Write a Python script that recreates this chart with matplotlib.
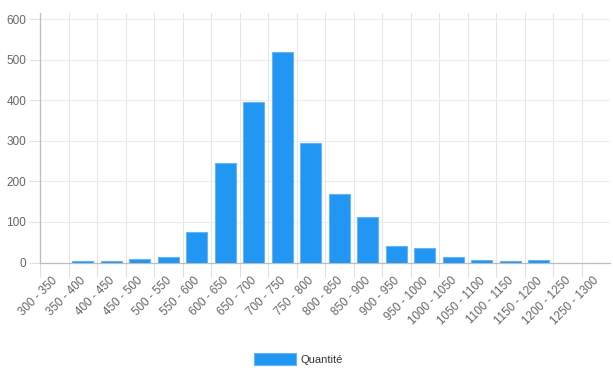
import numpy as np
import matplotlib.pyplot as plt
import matplotlib.transforms as mtransforms

# price ranges and number of items in each
tranches = ["300 - 350", "350 - 400", "400 - 450", "450 - 500", "500 - 550",
            "550 - 600", "600 - 650", "650 - 700", "700 - 750", "750 - 800",
            "800 - 850", "850 - 900", "900 - 950", "950 - 1000", "1000 - 1050",
            "1050 - 1100", "1100 - 1150", "1150 - 1200", "1200 - 1250", "1250 - 1300"]
quantite = [0, 3, 3, 8, 13, 75, 246, 395, 518, 295,
            169, 112, 41, 36, 13, 6, 3, 6, 0, 0]
y_ticks = [0, 100, 200, 300, 400, 500, 600]

plt.rcParams['font.family'] = ['Liberation Sans', 'DejaVu Sans']

fig = plt.figure(figsize=(6.13, 3.68), dpi=100)
ax = fig.add_axes([40 / 613, (368 - 262.5) / 368, 570 / 613, 249.5 / 368])

x = np.arange(len(tranches))
ax.bar(x, quantite, width=0.72, color='#2196f3', edgecolor='#64b5f6',
       linewidth=0.8, label='Quantité', zorder=3)

ax.set_xlim(-0.5, len(tranches) - 0.5)
ax.set_ylim(0, 615)

# grid lines between categories and at each y tick
bounds = np.arange(0.5, len(tranches) - 0.5, 1.0)
for b in bounds:
    ax.axvline(b, color='#e6e6e6', lw=0.8, zorder=1)
for t in y_ticks[1:]:
    ax.axhline(t, color='#ebebeb', lw=0.8, zorder=1)

ax.set_yticks(y_ticks)
ax.set_xticks(x)
ax.set_xticks(np.append(bounds, -0.5), minor=True)
ax.set_xticklabels(tranches, rotation=45, ha='right', rotation_mode='anchor')
ax.tick_params(axis='y', length=8, color='#e0e0e0', labelsize=8.5,
               labelcolor='#666666', pad=2)
ax.tick_params(axis='x', which='major', length=0, labelsize=8.4,
               labelcolor='#666666', pad=9)
ax.tick_params(axis='x', which='minor', length=10, color='#e0e0e0', width=0.8)

# nudge the rotated labels a little to the left
shift = mtransforms.ScaledTranslation(-3 / 100, 0, fig.dpi_scale_trans)
for lbl in ax.get_xticklabels():
    lbl.set_transform(lbl.get_transform() + shift)

for s in ['top', 'right']:
    ax.spines[s].set_visible(False)
for s in ['left', 'bottom']:
    ax.spines[s].set_color('#bdbdbd')
    ax.spines[s].set_linewidth(0.9)

leg = fig.legend(loc='center', bbox_to_anchor=(0.487, (368 - 359) / 368), frameon=False,
                 fontsize=8, handlelength=3.8, handleheight=1.3, handletextpad=0.4)
for txt in leg.get_texts():
    txt.set_color('#333333')

fig.savefig('out.png', dpi=100)
